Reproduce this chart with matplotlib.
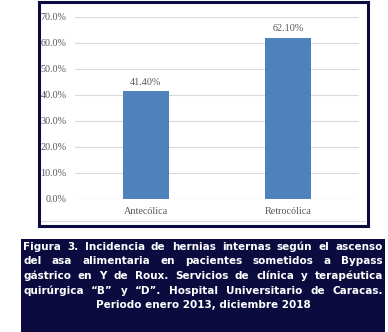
import matplotlib.pyplot as plt
from matplotlib.patches import Rectangle
from matplotlib.ticker import FuncFormatter, MultipleLocator

categorias = ["Antecólica", "Retrocólica"]
porcentajes = [41.40, 62.10]
etiquetas = ["41.40%", "62.10%"]

leyenda = [
    "Figura 3. Incidencia de hernias internas según el ascenso",
    "del asa alimentaria en pacientes sometidos a Bypass",
    "gástrico en Y de Roux. Servicios de clínica y terapéutica",
    "quirúrgica “B” y “D”. Hospital Universitario de Caracas.",
    "Periodo enero 2013, diciembre 2018",
]

W, H = 388, 332
AZUL_OSCURO = "#0b0b40"
GRIS = "#595959"

fig = plt.figure(figsize=(W / 100, H / 100), dpi=100)
fig.patch.set_facecolor("white")

# marco del grafico
fig.add_artist(Rectangle((38.5 / W, 1 - 226 / H), 329 / W, 224 / H,
                         transform=fig.transFigure, fill=False,
                         edgecolor=AZUL_OSCURO, linewidth=2.2))
fig.add_artist(plt.Line2D([41 / W, 365 / W], [1 - 221 / H, 1 - 221 / H],
                          transform=fig.transFigure, color="#d9d9d9", lw=0.8))

ax = fig.add_axes([75 / W, 1 - 199 / H, 284 / W, 182 / H])
x = range(len(categorias))
ax.bar(x, porcentajes, width=0.32, color="#4f81bd", zorder=3)
for xi, v, t in zip(x, porcentajes, etiquetas):
    ax.text(xi, v + 1.8, t, ha="center", va="bottom", fontsize=7.3,
            family="Liberation Serif", color=GRIS)

ax.set_xlim(-0.5, 1.5)
ax.set_ylim(0, 70)
ax.yaxis.set_major_locator(MultipleLocator(10))
ax.yaxis.set_major_formatter(FuncFormatter(lambda v, p: f"{v:.1f}%"))
ax.set_xticks(list(x))
ax.set_xticklabels(categorias)
ax.grid(axis="y", color="#d9d9d9", linewidth=0.8, zorder=0)
ax.axhline(0, color="#d9d9d9", linewidth=0.8, zorder=4)
for s in ax.spines.values():
    s.set_visible(False)
ax.tick_params(length=0, pad=6, labelsize=7.3, labelcolor=GRIS)
for lab in ax.get_xticklabels() + ax.get_yticklabels():
    lab.set_family("Liberation Serif")

# recuadro con el pie de figura
fig.add_artist(Rectangle((21 / W, 0), 364 / W, 1 - 239 / H,
                         transform=fig.transFigure, facecolor=AZUL_OSCURO,
                         edgecolor="none"))

fig.canvas.draw()
renderer = fig.canvas.get_renderer()
x0, x1 = 23, 383
ys = [247, 261.5, 276, 290.5, 305]
estilo = dict(fontsize=7.5, fontweight="bold", color="white",
              family="DejaVu Sans", va="center")

for i, (linea, y) in enumerate(zip(leyenda, ys)):
    yf = 1 - y / H
    if i == len(leyenda) - 1:
        fig.text((x0 + x1) / 2 / W, yf, linea, ha="center", **estilo)
        continue
    # texto justificado: se reparte el espacio sobrante entre palabras
    palabras = linea.split(" ")
    objs = [fig.text(0, yf, p, ha="left", **estilo) for p in palabras]
    anchos = [o.get_window_extent(renderer).width for o in objs]
    hueco = (x1 - x0 - sum(anchos)) / (len(palabras) - 1)
    pos = x0
    for o, a in zip(objs, anchos):
        o.set_x(pos / W)
        pos += a + hueco

fig.savefig("out.png", dpi=100)
